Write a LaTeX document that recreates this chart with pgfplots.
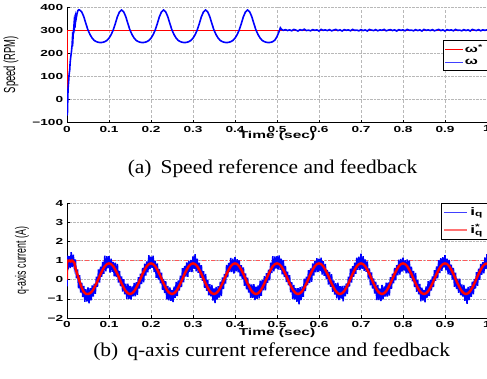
\documentclass[border=0pt]{standalone}
\usepackage{fontspec}
\setmainfont{Liberation Serif}
\newfontfamily\tickfont[FakeStretch=1.55]{Liberation Sans Bold}
\newfontfamily\labfont{Liberation Sans}
\usepackage{graphicx}
\usepackage{pgfplots}
\pgfplotsset{compat=1.18}
\pgfplotsset{
  mystyle/.style={
    width=420bp, scale only axis,
    xmin=0, xmax=1,
    axis x line*=bottom, axis y line*=left,
    axis line style={line width=0.9bp, black},
    xtick={0,0.1,0.2,0.3,0.4,0.5,0.6,0.7,0.8,0.9,1},
    xticklabels={0,0.1,0.2,0.3,0.4,0.5,0.6,0.7,0.8,0.9,1},
    tick align=inside, major tick length=2.5bp,
    tick style={black, line width=0.5bp},
    grid=major,
    x grid style={black!28, densely dashed, line width=0.4bp},
    y grid style={black!28, densely dotted, line width=0.5bp},
    ticklabel style={font=\tickfont\fontsize{8.8bp}{9bp}\selectfont},
    xticklabel style={inner sep=0pt, anchor=north, yshift=-3.2bp},
    yticklabel style={inner sep=0pt, anchor=east, xshift=-3.7bp},
    xlabel={Time (sec)},
    legend cell align=left,
  }
}
\begin{document}
\begin{tikzpicture}
\path[use as bounding box] (0,0) rectangle (487bp,379bp);
% ---------------- top: speed ----------------
\begin{axis}[mystyle, at={(67bp,256.5bp)}, anchor=south west, height=115.5bp,
  ymin=-100, ymax=400, ytick={-100,0,100,200,300,400},
  yticklabels={−100,0,100,200,300,400},
  xlabel style={at={(axis description cs:0.5,-0.114)}, anchor=center, font=\tickfont\fontsize{10bp}{11bp}\selectfont},
  ylabel={\scalebox{1}[1.7]{Speed (RPM)}},
  ylabel style={at={(axis description cs:-0.1333,0.5)}, anchor=center, font=\labfont\fontsize{9.4bp}{10bp}\selectfont},
  legend style={at={(1,0.714)}, anchor=north east,
    inner xsep=2bp, inner ysep=2bp, row sep=1bp,
    font=\tickfont\fontsize{10bp}{11bp}\selectfont},
]
\addplot[red, line width=0.8bp, legend image post style={line width=1bp}] coordinates {(0,0)(0,300)(1,300)};
\addlegendentry{ω\textsuperscript{*}}
\addplot[blue, line width=1.6bp, legend image post style={line width=1bp, blue!75}] coordinates {
(0,-70)(0.001,-62)(0.002,10)(0.0025,45)(0.004,80)(0.005,108)(0.0065,128)(0.0075,160)(0.009,185)(0.0105,205)
(0.012,232)(0.013,265)(0.014,256)(0.015,290)(0.016,305)(0.017,330)(0.018,318)(0.019,345)(0.02,336)(0.021,360)
(0.022,352)(0.024,373)(0.026,384)(0.028,388)(0.03,387)
(0.035,379)(0.04,358)(0.045,328)(0.05,300)(0.055,280)(0.06,265)(0.065,255)(0.07,250)(0.075,247)(0.08,246)
(0.085,247)(0.09,250)(0.095,255)(0.1,265)(0.105,280)(0.11,300)(0.115,328)(0.12,358)(0.125,379)(0.13,387)
(0.135,379)(0.14,358)(0.145,328)(0.15,300)(0.155,280)(0.16,265)(0.165,255)(0.17,250)(0.175,247)(0.18,246)
(0.185,247)(0.19,250)(0.195,255)(0.2,265)(0.205,280)(0.21,300)(0.215,328)(0.22,358)(0.225,379)(0.23,387)
(0.235,379)(0.24,358)(0.245,328)(0.25,300)(0.255,280)(0.26,265)(0.265,255)(0.27,250)(0.275,247)(0.28,246)
(0.285,247)(0.29,250)(0.295,255)(0.3,265)(0.305,280)(0.31,300)(0.315,328)(0.32,358)(0.325,379)(0.33,387)
(0.335,379)(0.34,358)(0.345,328)(0.35,300)(0.355,280)(0.36,265)(0.365,255)(0.37,250)(0.375,247)(0.38,246)
(0.385,247)(0.39,250)(0.395,255)(0.4,265)(0.405,280)(0.41,300)(0.415,328)(0.42,358)(0.425,379)(0.43,387)
(0.435,379)(0.44,358)(0.445,328)(0.45,300)(0.455,280)(0.46,265)(0.465,255)(0.47,250)(0.475,247)(0.48,246)
(0.485,247)(0.49,250)(0.495,257)(0.5,272)(0.505,294)(0.508,310)(0.511,303)
(0.515,299)(0.52,302)(0.525,298)(0.53,301)(0.535,297)(0.54,303)(0.545,300)(0.55,296)(0.555,302)(0.56,299)
(0.565,304)(0.57,298)(0.575,300)(0.58,297)(0.585,302)(0.59,299)(0.595,301)(0.6,296)(0.605,303)(0.61,299)
(0.615,301)(0.62,298)(0.625,302)(0.63,297)(0.635,300)(0.64,303)(0.645,298)(0.65,301)(0.655,296)(0.66,302)
(0.665,299)(0.67,301)(0.675,297)(0.68,303)(0.685,299)(0.69,300)(0.695,297)(0.7,302)(0.705,298)(0.71,301)
(0.715,296)(0.72,303)(0.725,300)(0.73,298)(0.735,302)(0.74,297)(0.745,301)(0.75,299)(0.755,303)(0.76,297)
(0.765,300)(0.77,302)(0.775,298)(0.78,301)(0.785,296)(0.79,302)(0.795,299)(0.8,301)(0.805,297)(0.81,303)
(0.815,299)(0.82,300)(0.825,297)(0.83,302)(0.835,298)(0.84,301)(0.845,296)(0.85,303)(0.855,299)(0.86,301)
(0.865,298)(0.87,302)(0.875,297)(0.88,300)(0.885,303)(0.89,298)(0.895,301)(0.9,296)(0.905,302)(0.91,299)
(0.915,301)(0.92,297)(0.925,303)(0.93,299)(0.935,300)(0.94,297)(0.945,302)(0.95,298)(0.955,301)(0.96,296)
(0.965,303)(0.97,300)(0.975,298)(0.98,302)(0.985,297)(0.99,301)(0.995,299)(1,301)};
\addlegendentry{ω}
\end{axis}
% ---------------- bottom: q-axis current ----------------
\begin{axis}[mystyle, at={(67bp,61bp)}, anchor=south west, height=115bp,
  ymin=-2, ymax=4, ytick={-2,-1,0,1,2,3,4},
  yticklabels={−2,−1,0,1,2,3,4},
  xlabel style={at={(axis description cs:0.5,-0.126)}, anchor=center, font=\tickfont\fontsize{10bp}{11bp}\selectfont},
  ylabel={\scalebox{1}[1.7]{q-axis current (A)}},
  ylabel style={at={(axis description cs:-0.107,0.5)}, anchor=center, font=\labfont\fontsize{8.8bp}{10bp}\selectfont},
  legend style={at={(1,1)}, anchor=north east,
    inner xsep=2bp, inner ysep=2bp, row sep=4bp,
    font=\tickfont\fontsize{11bp}{12bp}\selectfont},
  legend image code/.code={\draw[mark repeat=2,mark phase=2] plot coordinates {(0cm,0cm) (0.4cm,0cm) (0.8cm,0cm)};},
]
\addplot[red!65, line width=0.6bp, dash pattern=on 4bp off 2bp on 1bp off 2bp, forget plot] coordinates {(0,1)(1,1)};
\addplot[blue, line width=1.5bp, legend image post style={line width=0.7bp, blue!75}] coordinates {
(0,-0.35)(0.0012,1.25)(0.0025,0.54)(0.005,1.22)(0.0075,0.60)(0.01,1.44)(0.0125,0.66)(0.015,1.30)(0.0175,0.66)(0.02,1.06)(0.0225,0.07)(0.025,0.53)(0.0275,-0.45)(0.03,0.23)(0.0325,-0.67)(0.035,-0.16)(0.0375,-0.91)(0.04,-0.33)(0.0425,-1.15)(0.045,-0.50)(0.0475,-1.14)(0.05,-0.41)(0.0525,-1.24)(0.055,-0.44)(0.0575,-1.08)(0.06,-0.30)(0.0625,-0.88)(0.065,-0.21)(0.0675,-0.74)(0.07,0.15)(0.0725,-0.37)(0.075,0.53)(0.0775,-0.15)(0.08,0.68)(0.0825,0.15)(0.085,0.93)(0.0875,0.31)(0.09,1.25)(0.0925,0.44)(0.095,1.22)(0.0975,0.59)
(0.1,1.23)(0.1025,0.37)(0.105,1.10)(0.1075,0.41)(0.11,0.92)(0.1125,0.18)(0.115,0.88)(0.1175,0.13)(0.12,0.82)(0.1225,-0.15)(0.125,0.45)(0.1275,-0.34)(0.13,0.17)(0.1325,-0.62)(0.135,0.03)(0.1375,-0.76)(0.14,-0.21)(0.1425,-1.00)(0.145,-0.21)(0.1475,-1.01)(0.15,-0.33)(0.1525,-1.04)(0.155,-0.35)(0.1575,-0.87)(0.16,-0.17)(0.1625,-0.87)(0.165,-0.13)(0.1675,-0.79)(0.17,0.13)(0.1725,-0.46)(0.175,0.31)(0.1775,-0.23)(0.18,0.61)(0.1825,-0.14)(0.185,0.84)(0.1875,0.21)(0.19,0.95)(0.1925,0.38)(0.195,1.28)(0.1975,0.55)
(0.2,1.20)(0.2025,0.62)(0.205,1.25)(0.2075,0.40)(0.21,0.98)(0.2125,0.10)(0.215,0.85)(0.2175,0.01)(0.22,0.56)(0.2225,-0.19)(0.225,0.36)(0.2275,-0.53)(0.23,0.04)(0.2325,-0.70)(0.235,-0.08)(0.2375,-1.02)(0.24,-0.33)(0.2425,-1.08)(0.245,-0.41)(0.2475,-1.10)(0.25,-0.54)(0.2525,-1.17)(0.255,-0.36)(0.2575,-0.95)(0.26,-0.12)(0.2625,-0.85)(0.265,-0.04)(0.2675,-0.57)(0.27,0.21)(0.2725,-0.39)(0.275,0.60)(0.2775,-0.14)(0.28,0.71)(0.2825,0.16)(0.285,0.90)(0.2875,0.15)(0.29,0.99)(0.2925,0.41)(0.295,1.03)(0.2975,0.40)
(0.3,1.21)(0.3025,0.56)(0.305,1.33)(0.3075,0.43)(0.31,1.10)(0.3125,0.36)(0.315,0.89)(0.3175,0.10)(0.32,0.75)(0.3225,-0.06)(0.325,0.44)(0.3275,-0.42)(0.33,0.30)(0.3325,-0.58)(0.335,0.00)(0.3375,-0.82)(0.34,-0.24)(0.3425,-0.87)(0.345,-0.28)(0.3475,-1.09)(0.35,-0.46)(0.3525,-1.22)(0.355,-0.38)(0.3575,-1.04)(0.36,-0.34)(0.3625,-0.93)(0.365,-0.11)(0.3675,-0.86)(0.37,0.12)(0.3725,-0.49)(0.375,0.30)(0.3775,-0.20)(0.38,0.77)(0.3825,0.12)(0.385,0.87)(0.3875,0.40)(0.39,1.14)(0.3925,0.40)(0.395,1.09)(0.3975,0.32)
(0.4,1.18)(0.4025,0.44)(0.405,1.07)(0.4075,0.39)(0.41,1.01)(0.4125,0.17)(0.415,0.76)(0.4175,0.02)(0.42,0.64)(0.4225,-0.32)(0.425,0.32)(0.4275,-0.50)(0.43,0.10)(0.4325,-0.67)(0.435,-0.21)(0.4375,-0.95)(0.44,-0.25)(0.4425,-0.95)(0.445,-0.23)(0.4475,-1.07)(0.45,-0.37)(0.4525,-1.00)(0.455,-0.30)(0.4575,-0.97)(0.46,-0.05)(0.4625,-0.84)(0.465,-0.01)(0.4675,-0.56)(0.47,0.18)(0.4725,-0.55)(0.475,0.34)(0.4775,-0.17)(0.48,0.52)(0.4825,-0.03)(0.485,0.88)(0.4875,0.34)(0.49,1.22)(0.4925,0.43)(0.495,1.21)(0.4975,0.58)
(0.5,1.22)(0.5025,0.53)(0.505,1.26)(0.5075,0.52)(0.51,1.09)(0.5125,0.28)(0.515,1.02)(0.5175,0.14)(0.52,0.72)(0.5225,-0.12)(0.525,0.41)(0.5275,-0.29)(0.53,0.23)(0.5325,-0.66)(0.535,-0.13)(0.5375,-1.00)(0.54,-0.27)(0.5425,-1.04)(0.545,-0.45)(0.5475,-1.15)(0.55,-0.44)(0.5525,-1.29)(0.555,-0.39)(0.5575,-1.07)(0.56,-0.35)(0.5625,-0.90)(0.565,0.05)(0.5675,-0.60)(0.57,0.15)(0.5725,-0.30)(0.575,0.49)(0.5775,-0.18)(0.58,0.58)(0.5825,-0.11)(0.585,0.85)(0.5875,0.22)(0.59,0.96)(0.5925,0.39)(0.595,1.12)(0.5975,0.39)
(0.6,1.09)(0.6025,0.45)(0.605,1.15)(0.6075,0.26)(0.61,0.97)(0.6125,0.20)(0.615,0.82)(0.6175,0.05)(0.62,0.51)(0.6225,-0.25)(0.625,0.40)(0.6275,-0.37)(0.63,0.28)(0.6325,-0.64)(0.635,-0.04)(0.6375,-0.78)(0.64,-0.19)(0.6425,-0.97)(0.645,-0.16)(0.6475,-1.06)(0.65,-0.34)(0.6525,-0.99)(0.655,-0.33)(0.6575,-1.13)(0.66,-0.31)(0.6625,-0.87)(0.665,-0.20)(0.6675,-0.75)(0.67,0.16)(0.6725,-0.36)(0.675,0.57)(0.6775,-0.15)(0.68,0.70)(0.6825,0.15)(0.685,0.89)(0.6875,0.31)(0.69,1.15)(0.6925,0.52)(0.695,1.20)(0.6975,0.50)
(0.7,1.35)(0.7025,0.57)(0.705,1.23)(0.7075,0.46)(0.71,1.06)(0.7125,0.41)(0.715,0.95)(0.7175,0.06)(0.72,0.59)(0.7225,-0.30)(0.725,0.38)(0.7275,-0.46)(0.73,0.06)(0.7325,-0.72)(0.735,-0.11)(0.7375,-1.07)(0.74,-0.28)(0.7425,-1.07)(0.745,-0.46)(0.7475,-1.12)(0.75,-0.28)(0.7525,-1.03)(0.755,-0.36)(0.7575,-0.88)(0.76,-0.16)(0.7625,-0.88)(0.765,-0.14)(0.7675,-0.83)(0.77,0.13)(0.7725,-0.48)(0.775,0.31)(0.7775,-0.19)(0.78,0.61)(0.7825,-0.04)(0.785,0.76)(0.7875,0.23)(0.79,1.04)(0.7925,0.26)(0.795,1.08)(0.7975,0.42)
(0.8,1.15)(0.8025,0.48)(0.805,1.02)(0.8075,0.33)(0.81,1.05)(0.8125,0.33)(0.815,1.00)(0.8175,0.08)(0.82,0.68)(0.8225,-0.08)(0.825,0.46)(0.8275,-0.39)(0.83,0.35)(0.8325,-0.63)(0.835,-0.01)(0.8375,-0.77)(0.84,-0.22)(0.8425,-1.13)(0.845,-0.42)(0.8475,-1.09)(0.85,-0.53)(0.8525,-1.18)(0.855,-0.35)(0.8575,-0.94)(0.86,-0.08)(0.8625,-0.85)(0.865,-0.02)(0.8675,-0.57)(0.87,0.17)(0.8725,-0.39)(0.875,0.50)(0.8775,-0.06)(0.88,0.69)(0.8825,0.07)(0.885,1.02)(0.8875,0.35)(0.89,1.12)(0.8925,0.46)(0.895,1.17)(0.8975,0.63)
(0.9,1.28)(0.9025,0.49)(0.905,1.10)(0.9075,0.28)(0.91,1.03)(0.9125,0.24)(0.915,0.78)(0.9175,0.00)(0.92,0.61)(0.9225,-0.37)(0.925,0.37)(0.9275,-0.49)(0.93,0.05)(0.9325,-0.69)(0.935,0.05)(0.9375,-0.81)(0.94,-0.25)(0.9425,-0.88)(0.945,-0.27)(0.9475,-1.10)(0.95,-0.47)(0.9525,-1.26)(0.955,-0.38)(0.9575,-1.06)(0.96,-0.34)(0.9625,-0.89)(0.965,-0.11)(0.9675,-0.76)(0.97,0.04)(0.9725,-0.47)(0.975,0.39)(0.9775,-0.32)(0.98,0.57)(0.9825,-0.01)(0.985,0.82)(0.9875,0.26)(0.99,0.91)(0.9925,0.33)(0.995,1.16)(0.9975,0.55)(1,1.33)};
\addlegendentry{i\textsubscript{q}}
\addplot[red, line width=2.4bp, legend image post style={red!55}] coordinates {
(0,0)(0,1)(0.003,0.96)(0.006,1.0)(0.009,0.95)(0.012,1.0)(0.015,0.94)(0.0175,0.88)(0.02,0.62)(0.025,0.25)(0.03,-0.10)(0.035,-0.42)(0.04,-0.64)(0.045,-0.74)(0.05,-0.75)
(0.055,-0.71)(0.06,-0.60)(0.065,-0.42)(0.07,-0.20)(0.075,0.05)(0.08,0.30)(0.085,0.52)(0.09,0.70)(0.095,0.81)(0.1,0.85)(0.105,0.81)(0.11,0.70)(0.115,0.52)(0.12,0.30)(0.125,0.05)(0.13,-0.20)(0.135,-0.42)(0.14,-0.60)(0.145,-0.71)
(0.15,-0.75)(0.155,-0.71)(0.16,-0.60)(0.165,-0.42)(0.17,-0.20)(0.175,0.05)(0.18,0.30)(0.185,0.52)(0.19,0.70)(0.195,0.81)(0.2,0.85)(0.205,0.81)(0.21,0.70)(0.215,0.52)(0.22,0.30)(0.225,0.05)(0.23,-0.20)(0.235,-0.42)(0.24,-0.60)(0.245,-0.71)
(0.25,-0.75)(0.255,-0.71)(0.26,-0.60)(0.265,-0.42)(0.27,-0.20)(0.275,0.05)(0.28,0.30)(0.285,0.52)(0.29,0.70)(0.295,0.81)(0.3,0.85)(0.305,0.81)(0.31,0.70)(0.315,0.52)(0.32,0.30)(0.325,0.05)(0.33,-0.20)(0.335,-0.42)(0.34,-0.60)(0.345,-0.71)
(0.35,-0.75)(0.355,-0.71)(0.36,-0.60)(0.365,-0.42)(0.37,-0.20)(0.375,0.05)(0.38,0.30)(0.385,0.52)(0.39,0.70)(0.395,0.81)(0.4,0.85)(0.405,0.81)(0.41,0.70)(0.415,0.52)(0.42,0.30)(0.425,0.05)(0.43,-0.20)(0.435,-0.42)(0.44,-0.60)(0.445,-0.71)
(0.45,-0.75)(0.455,-0.71)(0.46,-0.60)(0.465,-0.42)(0.47,-0.20)(0.475,0.05)(0.48,0.30)(0.485,0.52)(0.49,0.70)(0.495,0.81)(0.5,0.85)(0.505,0.81)(0.51,0.70)(0.515,0.52)(0.52,0.30)(0.525,0.05)(0.53,-0.20)(0.535,-0.42)(0.54,-0.60)(0.545,-0.71)
(0.55,-0.75)(0.555,-0.71)(0.56,-0.60)(0.565,-0.42)(0.57,-0.20)(0.575,0.05)(0.58,0.30)(0.585,0.52)(0.59,0.70)(0.595,0.81)(0.6,0.85)(0.605,0.81)(0.61,0.70)(0.615,0.52)(0.62,0.30)(0.625,0.05)(0.63,-0.20)(0.635,-0.42)(0.64,-0.60)(0.645,-0.71)
(0.65,-0.75)(0.655,-0.71)(0.66,-0.60)(0.665,-0.42)(0.67,-0.20)(0.675,0.05)(0.68,0.30)(0.685,0.52)(0.69,0.70)(0.695,0.81)(0.7,0.85)(0.705,0.81)(0.71,0.70)(0.715,0.52)(0.72,0.30)(0.725,0.05)(0.73,-0.20)(0.735,-0.42)(0.74,-0.60)(0.745,-0.71)
(0.75,-0.75)(0.755,-0.71)(0.76,-0.60)(0.765,-0.42)(0.77,-0.20)(0.775,0.05)(0.78,0.30)(0.785,0.52)(0.79,0.70)(0.795,0.81)(0.8,0.85)(0.805,0.81)(0.81,0.70)(0.815,0.52)(0.82,0.30)(0.825,0.05)(0.83,-0.20)(0.835,-0.42)(0.84,-0.60)(0.845,-0.71)
(0.85,-0.75)(0.855,-0.71)(0.86,-0.60)(0.865,-0.42)(0.87,-0.20)(0.875,0.05)(0.88,0.30)(0.885,0.52)(0.89,0.70)(0.895,0.81)(0.9,0.85)(0.905,0.81)(0.91,0.70)(0.915,0.52)(0.92,0.30)(0.925,0.05)(0.93,-0.20)(0.935,-0.42)(0.94,-0.60)(0.945,-0.71)
(0.95,-0.75)(0.955,-0.71)(0.96,-0.60)(0.965,-0.42)(0.97,-0.20)(0.975,0.05)(0.98,0.30)(0.985,0.52)(0.99,0.70)(0.995,0.81)(1,0.85)};
\addlegendentry{i\rlap{\textsuperscript{*}}\textsubscript{q}}
\end{axis}
% ---------------- captions ----------------
\node[anchor=base, inner sep=0pt, font=\fontsize{19.5bp}{22bp}\selectfont] at (272.5bp,205.2bp) {\scalebox{1.1}[1]{(a)\hspace{0.42em}Speed reference and feedback}};
\node[anchor=base, inner sep=0pt, font=\fontsize{19.5bp}{22bp}\selectfont] at (271.7bp,22.5bp) {\scalebox{1.1}[1]{(b)\hspace{0.42em}q-axis current reference and feedback}};
\end{tikzpicture}
\end{document}
